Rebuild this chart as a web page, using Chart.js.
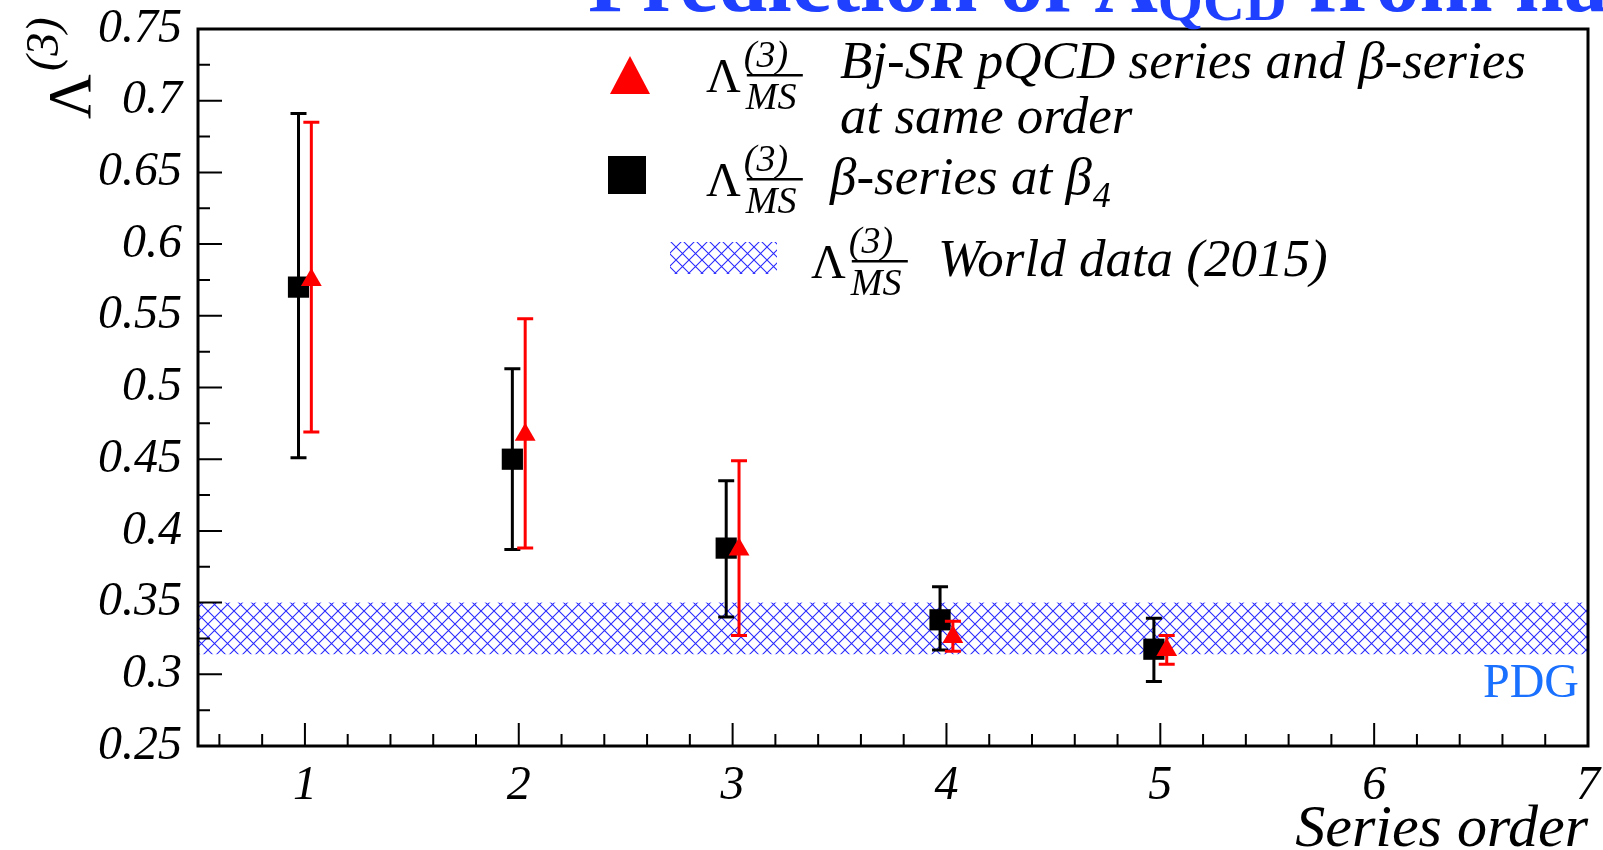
<!DOCTYPE html>
<html>
<head>
<meta charset="utf-8">
<script src="https://cdn.jsdelivr.net/npm/chart.js@4.4.1/dist/chart.umd.min.js"></script>
<style>
  html, body { margin: 0; padding: 0; background: #fff; }
  #wrap { width: 1603px; height: 850px; }
</style>
</head>
<body>
<div id="wrap"><canvas id="lambdaChart" width="1603" height="850"></canvas></div>
<script>
// values
const seriesOrder = [1, 2, 3, 4, 5];

// beta-series at beta_4 (black squares)
const betaLambda = [0.570, 0.450, 0.388, 0.338, 0.3175];
const betaHigh   = [0.691, 0.513, 0.435, 0.361, 0.339];
const betaLow    = [0.451, 0.387, 0.340, 0.317, 0.295];

// Bj-SR pQCD series and beta-series at same order (red triangles)
const pqcdLambda = [0.575, 0.467, 0.387, 0.326, 0.317];
const pqcdHigh   = [0.685, 0.548, 0.449, 0.337, 0.327];
const pqcdLow    = [0.469, 0.388, 0.327, 0.316, 0.307];

// world data 2015 (PDG) band: low, high
const worldBand = [0.314, 0.350];

const xTicks = [1, 2, 3, 4, 5, 6, 7];
const yTicks = [0.25, 0.3, 0.35, 0.4, 0.45, 0.5, 0.55, 0.6, 0.65, 0.7, 0.75];

const serif = "'Liberation Serif', 'Times New Roman', serif";
const shift = 0.03; // side by side offset of the two series

function makeHatch(ctx) {
  const s = 13;
  const tile = document.createElement('canvas');
  tile.width = s; tile.height = s;
  const t = tile.getContext('2d');
  t.strokeStyle = '#2b2bff';
  t.lineWidth = 1.1;
  t.beginPath();
  t.moveTo(-1, -1); t.lineTo(s + 1, s + 1);
  t.moveTo(s + 1, -1); t.lineTo(-1, s + 1);
  t.stroke();
  return ctx.createPattern(tile, 'repeat');
}

// PDG band behind the points
const bandPlugin = {
  id: 'band',
  beforeDatasetsDraw(chart) {
    const { ctx, chartArea: a, scales: { y } } = chart;
    const top = y.getPixelForValue(worldBand[1]);
    const bot = y.getPixelForValue(worldBand[0]);
    ctx.save();
    ctx.fillStyle = makeHatch(ctx);
    ctx.fillRect(a.left, top, a.right - a.left, bot - top);
    ctx.restore();
  }
};

// vertical error bars with caps, drawn just before each dataset's markers
const errorBarPlugin = {
  id: 'errorBars',
  beforeDatasetDraw(chart, args) {
    const ds = chart.data.datasets[args.index];
    if (!ds.errHigh) return;
    const { ctx, scales: { y } } = chart;
    ctx.save();
    ctx.strokeStyle = ds.backgroundColor;
    ctx.lineWidth = 3;
    args.meta.data.forEach((pt, i) => {
      const hi = y.getPixelForValue(ds.errHigh[i]);
      const lo = y.getPixelForValue(ds.errLow[i]);
      ctx.beginPath();
      ctx.moveTo(pt.x, hi); ctx.lineTo(pt.x, lo);
      ctx.moveTo(pt.x - 8, hi); ctx.lineTo(pt.x + 8, hi);
      ctx.moveTo(pt.x - 8, lo); ctx.lineTo(pt.x + 8, lo);
      ctx.stroke();
    });
    ctx.restore();
  }
};

// ROOT style frame with inward ticks
const framePlugin = {
  id: 'frame',
  afterDatasetsDraw(chart) {
    const { ctx, chartArea: a, scales: { x, y } } = chart;
    ctx.save();
    ctx.strokeStyle = '#000';
    ctx.lineWidth = 2;
    ctx.beginPath();
    xTicks.forEach(v => {
      const px = x.getPixelForValue(v);
      ctx.moveTo(px, a.bottom); ctx.lineTo(px, a.bottom - 23);
    });
    for (let v = 0.6; v < 7; v += 0.2) {
      if (Math.abs(v - Math.round(v)) < 0.01) continue;
      const px = x.getPixelForValue(v);
      ctx.moveTo(px, a.bottom); ctx.lineTo(px, a.bottom - 12);
    }
    yTicks.forEach((v, i) => {
      const py = y.getPixelForValue(v);
      ctx.moveTo(a.left, py); ctx.lineTo(a.left + 24, py);
      if (i < yTicks.length - 1) {
        const pm = y.getPixelForValue((v + yTicks[i + 1]) / 2);
        ctx.moveTo(a.left, pm); ctx.lineTo(a.left + 12, pm);
      }
    });
    ctx.stroke();
    ctx.lineWidth = 3;
    ctx.strokeRect(a.left, a.top, a.right - a.left, a.bottom - a.top);
    ctx.restore();
  }
};

function lambdaMS(ctx, x, base) {
  ctx.font = `48px ${serif}`;
  ctx.fillText('\u039B', x, base);
  const w = ctx.measureText('\u039B').width;
  ctx.font = `italic 38px ${serif}`;
  ctx.fillText('(3)', x + w + 3, base - 25);
  ctx.fillText('MS', x + w + 5, base + 17);
  ctx.fillRect(x + w + 6, base - 18, 56, 2.5);
}

// title, axis title on y, legend and PDG label
const textPlugin = {
  id: 'texts',
  afterDraw(chart) {
    const { ctx } = chart;
    ctx.save();
    ctx.textBaseline = 'alphabetic';

    // title (cut by the top edge)
    ctx.fillStyle = '#2040ff';
    ctx.font = `bold 88px ${serif}`;
    let tx = 588;
    ctx.fillText('Prediction of \u039B', tx, 11);
    tx += ctx.measureText('Prediction of \u039B').width;
    ctx.font = `bold 58px ${serif}`;
    ctx.fillText('QCD', tx, 20);
    tx += ctx.measureText('QCD').width;
    ctx.font = `bold 88px ${serif}`;
    ctx.fillText(' from hadron', tx, 11);

    // y axis title
    ctx.fillStyle = '#000';
    ctx.save();
    ctx.translate(90, 119);
    ctx.rotate(-Math.PI / 2);
    ctx.font = `62px ${serif}`;
    ctx.fillText('\u039B', 0, 0);
    const lw = ctx.measureText('\u039B').width;
    ctx.font = `italic 46px ${serif}`;
    ctx.fillText('(3)', lw + 3, -32);
    ctx.restore();

    // legend markers
    ctx.fillStyle = '#ff0000';
    ctx.beginPath();
    ctx.moveTo(630, 56); ctx.lineTo(650, 94); ctx.lineTo(610, 94);
    ctx.closePath();
    ctx.fill();
    ctx.fillStyle = '#000';
    ctx.fillRect(608, 156, 38, 38);
    ctx.fillStyle = makeHatch(ctx);
    ctx.fillRect(670, 242, 107, 32);

    // legend labels
    ctx.fillStyle = '#000';
    lambdaMS(ctx, 706, 92);
    lambdaMS(ctx, 706, 196);
    lambdaMS(ctx, 811, 278);
    ctx.font = `italic 53px ${serif}`;
    ctx.fillText('Bj-SR pQCD series and \u03B2-series', 840, 78);
    ctx.fillText('at same order', 840, 133);
    ctx.fillText('\u03B2-series at \u03B2', 830, 194);
    const bw = ctx.measureText('\u03B2-series at \u03B2').width;
    ctx.font = `italic 36px ${serif}`;
    ctx.fillText('4', 830 + bw + 1, 207);
    ctx.font = `italic 53px ${serif}`;
    ctx.fillText('World data (2015)', 938, 276);

    // PDG tag
    ctx.fillStyle = '#1a70ff';
    ctx.font = `48px ${serif}`;
    ctx.textAlign = 'right';
    ctx.fillText('PDG', 1579, 697);
    ctx.restore();
  }
};

const tickFont = { family: serif, size: 48, style: 'italic' };

new Chart(document.getElementById('lambdaChart'), {
  type: 'scatter',
  data: {
    datasets: [{
      label: 'Bj-SR pQCD series and beta-series at same order',
      data: seriesOrder.map((n, i) => ({ x: n + shift, y: pqcdLambda[i] })),
      errHigh: pqcdHigh,
      errLow: pqcdLow,
      backgroundColor: '#ff0000',
      borderWidth: 0,
      pointStyle: 'triangle',
      pointRadius: 12,
      order: 0
    }, {
      label: 'beta-series at beta4',
      data: seriesOrder.map((n, i) => ({ x: n - shift, y: betaLambda[i] })),
      errHigh: betaHigh,
      errLow: betaLow,
      backgroundColor: '#000000',
      borderWidth: 0,
      pointStyle: 'rect',
      pointRadius: 15,
      order: 1
    }]
  },
  options: {
    responsive: false,
    animation: false,
    events: [],
    layout: { padding: { top: 29, right: 14, left: 0, bottom: 0 } },
    plugins: { legend: { display: false }, tooltip: { enabled: false } },
    scales: {
      x: {
        type: 'linear',
        min: 0.5,
        max: 7,
        grid: { display: false, drawTicks: false },
        border: { display: false },
        afterBuildTicks: s => { s.ticks = xTicks.map(v => ({ value: v })); },
        afterFit: s => { s.height = 104; s.paddingLeft = 0; s.paddingRight = 0; },
        ticks: {
          font: tickFont, color: '#000', padding: 12,
          maxRotation: 0, autoSkip: false,
          callback: v => String(v)
        },
        title: {
          display: true, text: 'Series order', align: 'end', color: '#000',
          font: { family: serif, size: 60, style: 'italic', lineHeight: 1 },
          padding: { top: 0, bottom: -10 }
        }
      },
      y: {
        min: 0.25,
        max: 0.75,
        grid: { display: false, drawTicks: false },
        border: { display: false },
        afterBuildTicks: s => { s.ticks = yTicks.map(v => ({ value: v })); },
        afterFit: s => { s.width = 198; s.paddingTop = 0; s.paddingBottom = 0; },
        ticks: {
          font: tickFont, color: '#000', padding: 16,
          callback: v => String(parseFloat(v.toFixed(3)))
        }
      }
    }
  },
  plugins: [bandPlugin, errorBarPlugin, framePlugin, textPlugin]
});
</script>
</body>
</html>
